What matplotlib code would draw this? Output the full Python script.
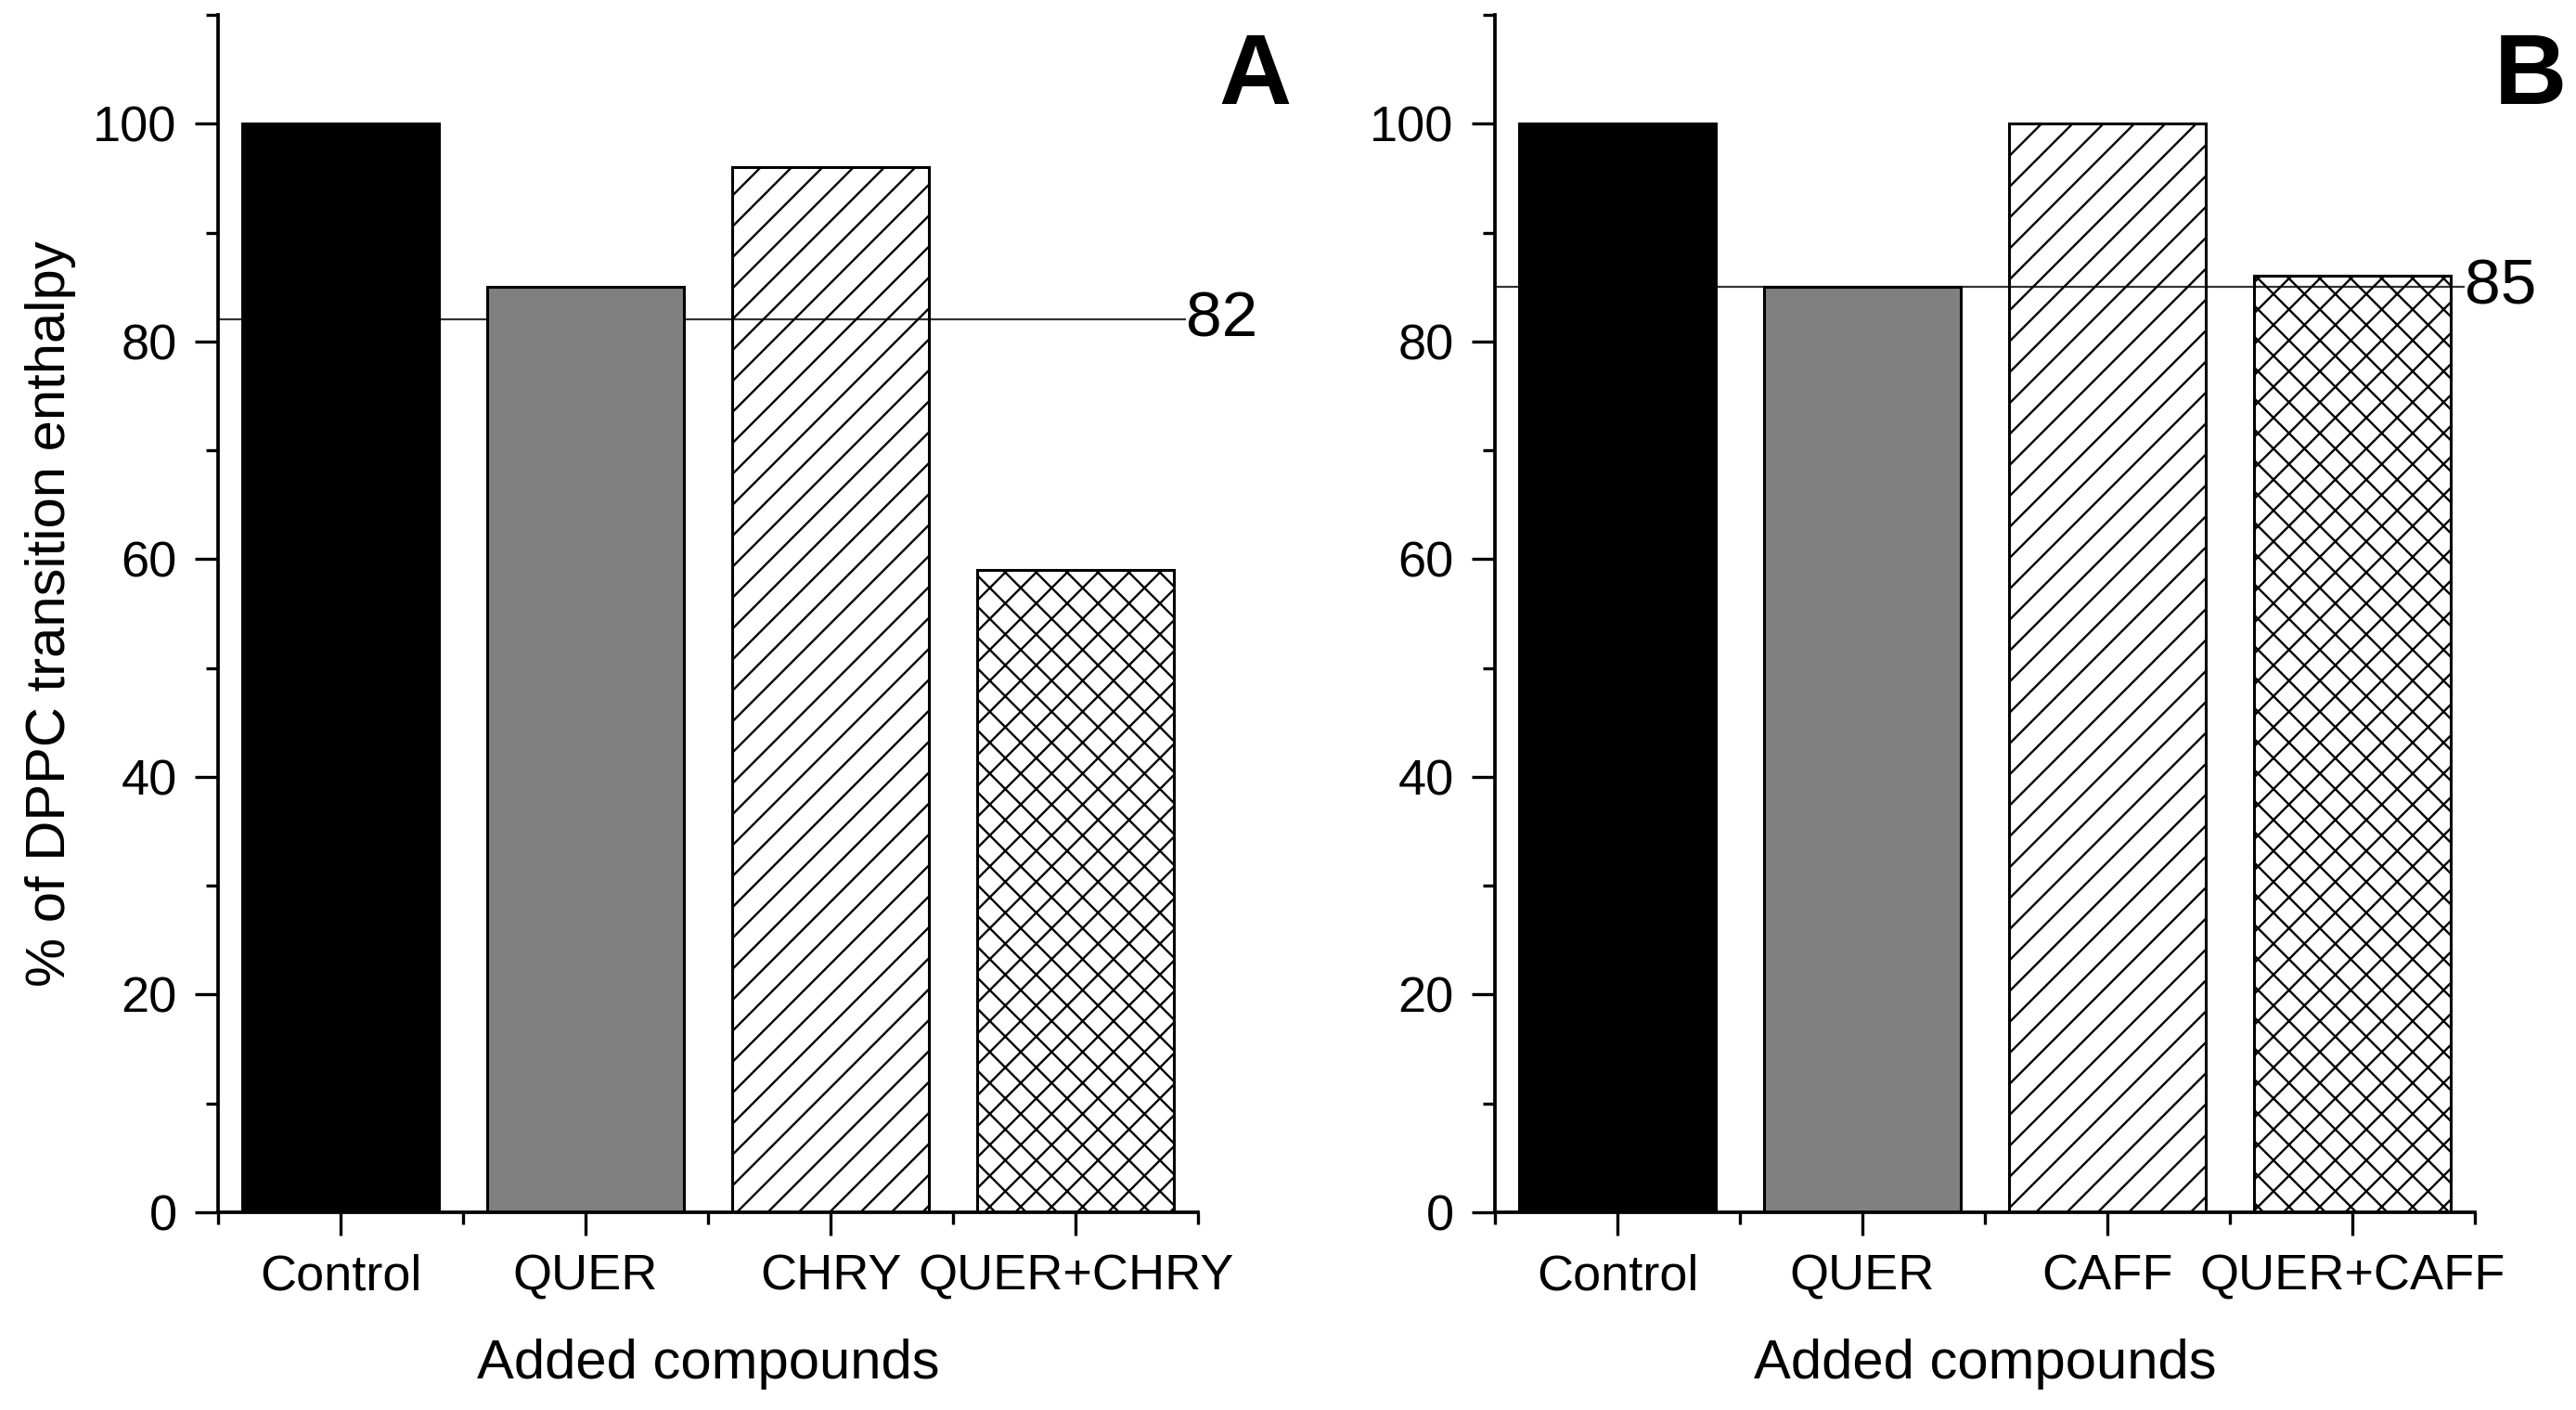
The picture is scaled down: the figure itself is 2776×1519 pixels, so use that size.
import numpy as np
import matplotlib
matplotlib.use("Agg")
import matplotlib.pyplot as plt
from matplotlib.ticker import FixedLocator

# ---- data ----
cats_a = ["Control", "QUER", "CHRY", "QUER+CHRY"]
vals_a = [100, 85, 96, 59]
ref_a = 82

cats_b = ["Control", "QUER", "CAFF", "QUER+CAFF"]
vals_b = [100, 85, 100, 86]
ref_b = 85

y_major = [0, 20, 40, 60, 80, 100]
y_minor = [10, 30, 50, 70, 90, 110]

# ---- styles ----
faces = ["black", "#808080", "none", "none"]
hatches = [None, None, "//", "xx"]

plt.rcParams["font.family"] = ["Liberation Sans", "DejaVu Sans"]
plt.rcParams["hatch.linewidth"] = 0.85
plt.rcParams["hatch.color"] = "black"

W, H = 2776, 1519
DPI = 200
fig = plt.figure(figsize=(W / DPI, H / DPI), dpi=DPI)

ax_a = fig.add_axes([235 / W, (H - 1306) / H, 1056 / W, 1290 / H])
ax_b = fig.add_axes([1611 / W, (H - 1306) / H, 1056 / W, 1290 / H])


def draw(ax, cats, vals, ref, ref_end, letter, letter_x):
    x = np.arange(1, len(cats) + 1)
    for xi, v, fc, h in zip(x, vals, faces, hatches):
        ax.bar(xi, v, width=0.8, color=fc, edgecolor="black", hatch=h,
               linewidth=1.1, zorder=2)
    ax.hlines(ref, 0.5, ref_end, color="#333333", linewidth=0.8, zorder=1.5,
              clip_on=False)
    ax.text(ref_end, ref, str(ref), ha="left", va="center", fontsize=25,
            clip_on=False)
    ax.set_xlim(0.5, 4.5)
    ax.set_ylim(0, 110)
    ax.set_xticks(x)
    ax.set_xticklabels(cats)
    ax.xaxis.set_minor_locator(FixedLocator(np.arange(0.5, 4.6, 1.0)))
    ax.set_yticks(y_major)
    ax.yaxis.set_minor_locator(FixedLocator(y_minor))
    for s in ["top", "right"]:
        ax.spines[s].set_visible(False)
    for s in ["left", "bottom"]:
        ax.spines[s].set_linewidth(1.35)
    ax.tick_params(axis="both", which="major", length=9, width=1.2,
                   labelsize=19.5, direction="out")
    ax.tick_params(axis="both", which="minor", length=4.7, width=1.2,
                   direction="out")
    ax.tick_params(axis="y", which="major", pad=7)
    ax.tick_params(axis="x", which="major", pad=7)
    ax.set_xlabel("Added compounds", fontsize=21.5, labelpad=15)
    fig.text(letter_x / W, (H - 112) / H, letter, ha="right", va="baseline",
             fontsize=39, fontweight="bold")


draw(ax_a, cats_a, vals_a, ref_a, 4.45, "A", 1392)
draw(ax_b, cats_b, vals_b, ref_b, 4.46, "B", 2766)
ax_a.set_ylabel("% of DPPC transition enthalpy", fontsize=21.5, labelpad=6.7)

fig.savefig("out.png", dpi=DPI)
